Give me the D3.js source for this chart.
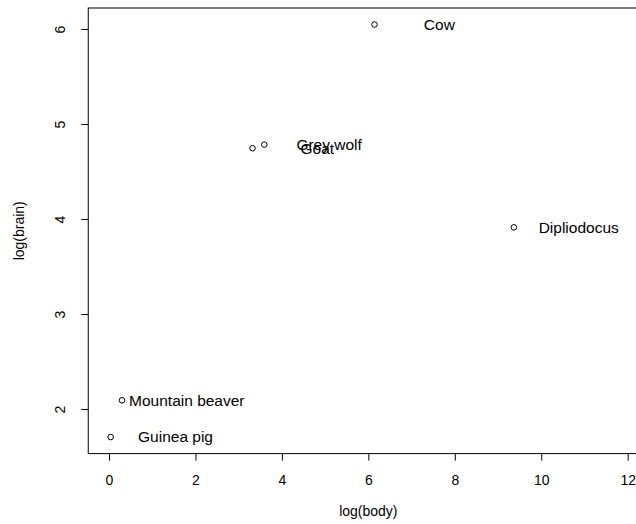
<!DOCTYPE html>
<html>
<head>
<meta charset="utf-8">
<script src="https://cdn.jsdelivr.net/npm/d3@7"></script>
<style>
  body { margin: 0; background: #fff; }
  text { font-family: "Liberation Sans", Arial, sans-serif; fill: #000; }
</style>
</head>
<body>
<div id="chart"></div>
<script>

var animals = ["Mountain beaver", "Cow", "Grey wolf", "Goat", "Guinea pig", "Dipliodocus"];
var logBody = [0.300, 6.142, 3.593, 3.320, 0.039, 9.367];
var logBrain = [2.092, 6.047, 4.783, 4.745, 1.705, 3.912];
var xTicks = [0, 2, 4, 6, 8, 10, 12];
var yTicks = [2, 3, 4, 5, 6];
var labelShift = 1.5;

var width = 636, height = 524;

var svg = d3.select("#chart")
  .append("svg")
  .attr("width", width)
  .attr("height", height);

// R style: 4% padding around the limits
var x = d3.scaleLinear().domain([-0.48, 12.48]).range([88.25, 648.45]);
var y = d3.scaleLinear().domain([1.531, 6.221]).range([453.6, 8.0]);

var data = animals.map(function(d, i) {
  return { name: d, body: logBody[i], brain: logBrain[i] };
});

// box
svg.append("rect")
  .attr("x", x.range()[0])
  .attr("y", y.range()[1])
  .attr("width", x.range()[1] - x.range()[0])
  .attr("height", y.range()[0] - y.range()[1])
  .attr("fill", "none")
  .attr("stroke", "#000")
  .attr("stroke-width", 1);

// x axis
var xAxis = svg.append("g")
  .attr("transform", "translate(0," + y.range()[0] + ")")
  .call(d3.axisBottom(x).tickValues(xTicks).tickSize(7).tickPadding(0).tickFormat(d3.format("d")));
xAxis.select(".domain").remove();
xAxis.selectAll("text")
  .attr("dy", null)
  .attr("y", 31)
  .style("font-size", "14px");

// y axis
var yAxis = svg.append("g")
  .attr("transform", "translate(" + x.range()[0] + ",0)")
  .call(d3.axisLeft(y).tickValues(yTicks).tickSize(7).tickFormat(d3.format("d")));
yAxis.select(".domain").remove();
yAxis.selectAll("text")
  .attr("x", null)
  .attr("dy", null)
  .attr("text-anchor", "middle")
  .attr("transform", "translate(-23,0) rotate(-90)")
  .style("font-size", "14px");

svg.selectAll(".tick line").attr("stroke", "#000");

// axis titles
svg.append("text")
  .attr("x", (x(0) + x(12)) / 2 + 0)
  .attr("y", 516)
  .attr("text-anchor", "middle")
  .style("font-size", "14px")
  .text("log(body)");

svg.append("text")
  .attr("transform", "translate(24," + (y.range()[0] + y.range()[1]) / 2 + ") rotate(-90)")
  .attr("text-anchor", "middle")
  .style("font-size", "14px")
  .text("log(brain)");

// points
svg.selectAll(".pt")
  .data(data)
  .enter().append("circle")
  .attr("class", "pt")
  .attr("cx", function(d) { return x(d.body); })
  .attr("cy", function(d) { return y(d.brain); })
  .attr("r", 2.8)
  .attr("fill", "none")
  .attr("stroke", "#000")
  .attr("stroke-width", 1);

// labels
svg.selectAll(".lab")
  .data(data)
  .enter().append("text")
  .attr("class", "lab")
  .attr("x", function(d) { return x(d.body + labelShift); })
  .attr("y", function(d) { return y(d.brain); })
  .attr("dy", "0.35em")
  .attr("text-anchor", "middle")
  .style("font-size", "15.5px")
  .text(function(d) { return d.name; });

</script>
</body>
</html>
